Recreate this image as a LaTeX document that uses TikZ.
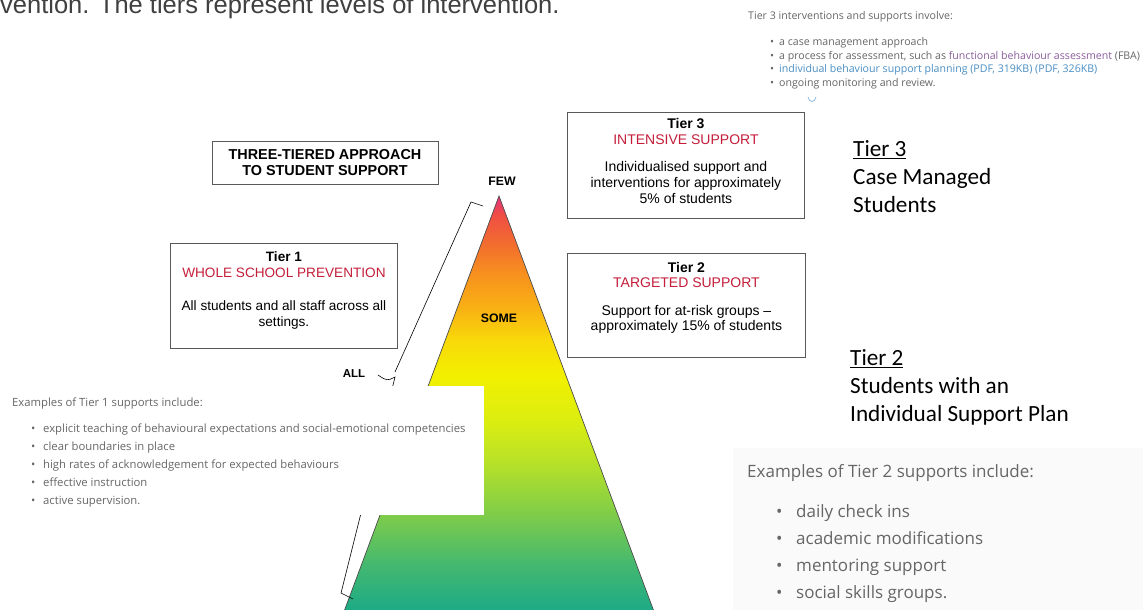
\documentclass[tikz,border=0pt]{standalone}
\usepackage{fontspec}
\setmainfont{Liberation Sans}
\newfontfamily\calibri{Carlito}
\newfontfamily\opensans{Open Sans}
\usetikzlibrary{positioning}
\definecolor{tierred}{HTML}{C41E3A}
\definecolor{webgray}{HTML}{666666}
\definecolor{linkblue}{HTML}{4A8FC4}
\definecolor{linkpurple}{HTML}{8B5E9C}
\definecolor{c0}{HTML}{10A68C}
\definecolor{c1}{HTML}{44B870}
\definecolor{c2}{HTML}{7ECC4A}
\definecolor{c3}{HTML}{B4E02A}
\definecolor{c4}{HTML}{DCEE10}
\definecolor{c5}{HTML}{F2F000}
\definecolor{c6}{HTML}{F8D90A}
\definecolor{c7}{HTML}{F9B313}
\definecolor{c8}{HTML}{F7921E}
\definecolor{c9}{HTML}{F26E2E}
\definecolor{c10}{HTML}{F04E45}
\definecolor{c11}{HTML}{E6337F}
% the path's box covers 25bp..75bp of the shading
\pgfdeclareverticalshading{pyramid}{100bp}{color(0bp)=(c0); color(25bp)=(c0); color(32bp)=(c1); color(37.8bp)=(c2);
  color(43.6bp)=(c3); color(48.9bp)=(c4); color(54.1bp)=(c5); color(58.2bp)=(c6); color(61.7bp)=(c7);
  color(65.8bp)=(c8); color(69.3bp)=(c9); color(72.8bp)=(c10); color(75bp)=(c11); color(100bp)=(c11)}
\tikzset{tierbox/.style={draw=black!65, line width=0.9pt, inner sep=0pt, anchor=north west},
         boxtext/.style={align=center, inner sep=0pt, font=\fontsize{14}{15}\selectfont},
         tag/.style={inner sep=0pt, font=\bfseries\fontsize{12.3}{14}\selectfont},
         sidelabel/.style={inner sep=0pt, anchor=north west, align=left, font=\calibri\fontsize{23.2}{28}\selectfont},
         webtext/.style={inner sep=0pt, anchor=base west, text=webgray},
        }

\begin{document}
\begin{tikzpicture}[x=1pt, y=-1pt]
        \useasboundingbox (0,0) rectangle (1143,610);
        \clip (0,0) rectangle (1143,610);
        \fill[white] (0,0) rectangle (1143,610);

        % cut-off intro line
        \node[webtext, text=black!75, font=\fontsize{25.5}{30}\selectfont](intro)at(0,13.5){vention. The tiers represent levels of intervention.};

        % pyramid and brace
        \shadedraw[shading=pyramid, draw=black!70, line width=0.7pt](499,196)--(659,625)--(339,625)--cycle;
        \draw[line width=0.6pt](483,206)--(471,202)--(395,372);
        \draw[line width=0.6pt](378,375)..controls(387,381)..(395,377)--(341,593)--(353,599);

        % pasted panels
        \fill[white](0,386)rectangle(484,515);
        \fill[black!2](733,448)rectangle(1143,615);

        \node[draw=black!65, line width=0.9pt, minimum width=226pt, minimum height=43pt, inner sep=0pt,
              align=center, font=\bfseries\fontsize{14.4}{16}\selectfont](title)at(325,162.5){THREE-TIERED APPROACH\\TO STUDENT SUPPORT};

        \node[tag](few)at(502,181){FEW};
        \node[tag](some)at(499,318){SOME};
        \node[tag, font=\bfseries\fontsize{11.5}{13}\selectfont](all)at(354,374){ALL};

        \node[tierbox, minimum width=227pt, minimum height=105pt](tier1)at(170,243){};
        \node[boxtext, font=\fontsize{13.6}{16}\selectfont, below=8pt of tier1.north](t1text){\textbf{Tier 1}\\\textcolor{tierred}{WHOLE SCHOOL PREVENTION}\\[17pt]All students and all staff across all\\settings.};

        \node[tierbox, minimum width=237pt, minimum height=106pt](tier3)at(567,112){};
        \node[boxtext, font=\fontsize{14}{16}\selectfont, below=6pt of tier3.north](t3text){\textbf{Tier 3}\\\textcolor{tierred}{INTENSIVE SUPPORT}\\[11pt]Individualised support and\\interventions for approximately\\5\% of students};

        \node[tierbox, minimum width=238pt, minimum height=104pt](tier2)at(567,253){};
        \node[boxtext, below=9pt of tier2.north](t2text){\textbf{Tier 2}\\\textcolor{tierred}{TARGETED SUPPORT}\\[13pt]Support for at-risk groups --\\approximately 15\% of students};

        \node[sidelabel](lab3)at(853,140){\underline{Tier 3}\\Case Managed\\Students};
        \node[sidelabel](lab2)at(850,349){\underline{Tier 2}\\Students with an\\Individual Support Plan};

        % Tier 3 list, top right
        \node[webtext, font=\opensans\fontsize{10.6}{12}\selectfont](ex3)at(748,19.5){Tier 3 interventions and supports involve:};
        \foreach \t [count=\i] in {a case management approach,
                {a process for assessment, such as \textcolor{linkpurple}{functional behaviour assessment} (FBA)},
                {\textcolor{linkblue}{individual behaviour support planning (PDF, 319KB) (PDF, 326KB)}},
                ongoing monitoring and review.}{
            \node[webtext, font=\opensans\fontsize{10.6}{12}\selectfont](ex3b\i)at(770,32.5+13.5*\i){\textbullet};
            \node[webtext, font=\opensans\fontsize{10.6}{12}\selectfont](ex3i\i)at(779,32.5+13.5*\i){\t};
        }
        \draw[linkblue!60, line width=0.8pt](808,97)..controls(809,103)and(815,103)..(816,97);

        % Tier 1 list
        \node[webtext, font=\opensans\fontsize{11.3}{13}\selectfont](ex1)at(12,406){Examples of Tier 1 supports include:};
        \foreach \t [count=\i] in {explicit teaching of behavioural expectations and social-emotional competencies,
                clear boundaries in place, high rates of acknowledgement for expected behaviours,
                effective instruction, active supervision.}{
            \node[webtext, font=\opensans\fontsize{11.3}{13}\selectfont](ex1b\i)at(31,414.5+18*\i){\textbullet};
            \node[webtext, font=\opensans\fontsize{11.3}{13}\selectfont](ex1i\i)at(43,414.5+18*\i){\t};
        }

        % Tier 2 list
        \node[webtext, font=\opensans\fontsize{17}{19}\selectfont](ex2)at(747,477){Examples of Tier 2 supports include:};
        \foreach \t [count=\i] in {daily check ins, academic modifications, mentoring support, social skills groups.}{
            \node[webtext, font=\opensans\fontsize{17}{19}\selectfont](ex2b\i)at(776,490+27*\i){\textbullet};
            \node[webtext, font=\opensans\fontsize{17}{19}\selectfont](ex2i\i)at(796,490+27*\i){\t};
        }
    \end{tikzpicture}
\end{document}
